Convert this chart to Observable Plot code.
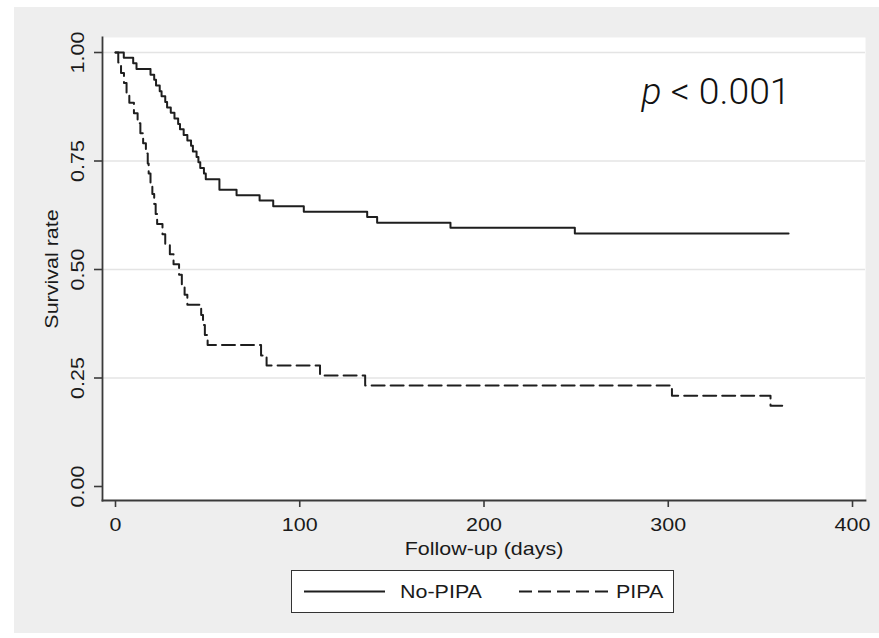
<!DOCTYPE html>
<html><head><meta charset="utf-8">
<script src="https://cdn.jsdelivr.net/npm/d3@7"></script>
<script src="https://cdn.jsdelivr.net/npm/@observablehq/plot@0.6"></script>
<style>
body{margin:0;background:#fff;font-family:"Liberation Sans",Arial,sans-serif;}
#bg{position:absolute;left:14px;top:7px;width:865px;height:626px;background:#eeeeee;}
#chart{position:absolute;left:0;top:0;}
#legend{position:absolute;left:291px;top:570px;width:381px;height:41px;background:#fff;border:1px solid #333;box-sizing:content-box;}
#legend .item{position:absolute;top:0;height:41px;display:flex;align-items:center;font-size:19px;color:#1a1a1a;transform:scaleX(1.13);transform-origin:left center;}
</style></head><body>
<div id="bg"></div><div id="chart"></div><div id="legend"></div>
<script>
// ---- data ----
const noPipaDays = [0, 4.5, 9.6, 11.4, 19, 21, 22, 24, 25, 27, 28, 30, 32, 34, 35, 37, 39, 41, 42, 44, 45, 46, 48, 49, 56.4, 65.7, 78.2, 85.6, 102.2, 136.6, 142, 181.8, 249.3, 365.3];
const noPipaSurv = [1.0, 0.988, 0.975, 0.962, 0.949, 0.937, 0.924, 0.911, 0.899, 0.886, 0.873, 0.861, 0.848, 0.835, 0.823, 0.810, 0.797, 0.785, 0.772, 0.759, 0.747, 0.734, 0.721, 0.708, 0.684, 0.671, 0.659, 0.646, 0.633, 0.621, 0.608, 0.596, 0.583, 0.583];
const pipaDays = [0, 1.5, 3, 4.6, 6, 7.5, 10, 12, 13.5, 15, 16.5, 17.5, 18, 19, 20, 21, 21.8, 22.6, 25.5, 27, 29.5, 31.5, 34.5, 36, 37.5, 39, 46.5, 47.5, 48.5, 50, 79, 82, 111, 135.5, 302, 355.5, 363];
const pipaSurv = [1.0, 0.977, 0.953, 0.930, 0.907, 0.884, 0.860, 0.837, 0.814, 0.791, 0.767, 0.744, 0.721, 0.698, 0.674, 0.651, 0.628, 0.605, 0.581, 0.558, 0.535, 0.512, 0.488, 0.465, 0.442, 0.419, 0.395, 0.372, 0.349, 0.326, 0.302, 0.279, 0.256, 0.233, 0.209, 0.186, 0.186];
const seriesNames = ["No-PIPA", "PIPA"];
const seriesDash = [null, "13,6"];
const xTicks = [0, 100, 200, 300, 400];
const yTicks = [0, 0.25, 0.5, 0.75, 1];
const gridTicks = [0.25, 0.5, 0.75, 1];
const xLabel = "Follow-up (days)";
const yLabel = "Survival rate";
const pLabel = "p < 0.001";

const rows = [
  ...noPipaDays.map((d, i) => ({days: d, surv: noPipaSurv[i], group: seriesNames[0]})),
  ...pipaDays.map((d, i) => ({days: d, surv: pipaSurv[i], group: seriesNames[1]}))
];

const ink = "#1e1e1e";
const chart = Plot.plot({
  width: 879, height: 565,
  marginLeft: 102, marginRight: 14, marginTop: 37, marginBottom: 65,
  style: {fontFamily: "Liberation Sans, Arial, sans-serif", fontSize: "19px", color: "#222", background: "transparent"},
  x: {domain: [-7.056, 407.05]},
  y: {domain: [-0.03226, 1.03457]},
  marks: [
    Plot.frame({fill: "white", stroke: "none"}),
    Plot.gridY(gridTicks, {stroke: "#e4e4e4", strokeOpacity: 1, strokeWidth: 1.6}),
    Plot.frame({anchor: "left", stroke: "#3a3a3a", strokeWidth: 1.8}),
    Plot.frame({anchor: "bottom", stroke: "#3a3a3a", strokeWidth: 1.8}),
    Plot.axisY({ticks: yTicks, tickFormat: d3.format(".2f"), tickSize: 8, tickPadding: 11, tickRotate: -90, label: null, stroke: "#3a3a3a", strokeWidth: 1.6, fill: "#1a1a1a"}),
    Plot.axisX({ticks: xTicks, tickFormat: d3.format("d"), tickSize: 7, tickPadding: 10, label: null, stroke: "#3a3a3a", strokeWidth: 1.6, fill: "#1a1a1a"}),
    Plot.text([xLabel], {frameAnchor: "bottom", dy: 54, lineAnchor: "bottom", fill: "#1a1a1a"}),
    Plot.text([yLabel], {frameAnchor: "left", dx: -45, rotate: -90, textAnchor: "middle", lineAnchor: "bottom", fill: "#1a1a1a"}),
    Plot.line(rows.filter(d => d.group === seriesNames[0]), {x: "days", y: "surv", curve: "step-after", stroke: ink, strokeWidth: 2}),
    Plot.line(rows.filter(d => d.group === seriesNames[1]), {x: "days", y: "surv", curve: "step-after", stroke: ink, strokeWidth: 2, strokeDasharray: seriesDash[1]}),
    Plot.text([pLabel], {frameAnchor: "top-right", dx: -75, dy: 66, textAnchor: "end", lineAnchor: "bottom", fontSize: 37, fontFamily: "Roboto", fontWeight: 300, fill: "#111"})
  ]
});
document.getElementById("chart").appendChild(chart);

// widen Helvetica-like labels to match the reference proportions
d3.select(chart).selectAll("text").each(function(){
  if (this.textContent === pLabel) return;
  const el = d3.select(this);
  const tr = el.attr("transform");
  if (tr) el.attr("transform", tr + " scale(1.13,1)");
  else {
    const x = +el.attr("x") || 0, y = +el.attr("y") || 0;
    el.attr("transform", `translate(${x},${y}) scale(1.13,1) translate(${-x},${-y})`);
  }
});

// italic "p" in annotation
d3.select(chart).selectAll("text").filter(function(){ return this.textContent === pLabel; }).each(function(){
  const t = d3.select(this);
  const [first, ...rest] = pLabel.split(" ");
  t.text(null);
  t.append("tspan").attr("font-style", "italic").text(first);
  t.append("tspan").text(" " + rest.join(" "));
  t.attr("textLength", 149).attr("lengthAdjust", "spacingAndGlyphs");
});

// legend
const legend = d3.select("#legend");
const layout = [{sx: 12, sw: 81, tx: 108}, {sx: 227, sw: 90, tx: 324}];
seriesNames.forEach((name, i) => {
  const L = layout[i];
  const svg = legend.append("svg").style("position", "absolute").style("left", L.sx + "px").style("top", "0px")
    .attr("width", L.sw).attr("height", 41);
  svg.append("line").attr("x1", 0).attr("x2", L.sw).attr("y1", 20.5).attr("y2", 20.5)
    .attr("stroke", ink).attr("stroke-width", 2).attr("stroke-dasharray", seriesDash[i]);
  legend.append("div").attr("class", "item").style("left", L.tx + "px").text(name);
});
</script>
</body></html>
